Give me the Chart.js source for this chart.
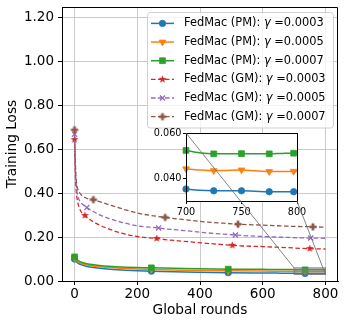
<!DOCTYPE html>
<html><head><meta charset="utf-8">
<script src="https://cdn.jsdelivr.net/npm/chart.js@4.4.1/dist/chart.umd.min.js"></script>
<style>
html,body{margin:0;padding:0;background:#fff;}
#wrap{position:relative;width:347px;height:326px;overflow:hidden;}
canvas{position:absolute;left:0;top:0;}
</style></head><body>
<div id="wrap"><canvas id="main" width="347" height="326"></canvas><canvas id="inset" width="347" height="326"></canvas></div>
<script>
// ---------------- data ----------------
const xTicks = [0, 200, 400, 600, 800];
const yTicks = [0, 0.2, 0.4, 0.6, 0.8, 1.0, 1.2];
const insetXTicks = [700, 750, 800];
const insetYTicks = [0.04, 0.06];

const seriesNames = ['FedMac (PM)', 'FedMac (PM)', 'FedMac (PM)', 'FedMac (GM)', 'FedMac (GM)', 'FedMac (GM)'];
const gammaLabels = ['0.0003', '0.0005', '0.0007', '0.0003', '0.0005', '0.0007'];

const pmRounds = [0, 5, 10, 20, 40, 80, 150, 245, 350, 490, 600, 660, 700, 712, 725, 735, 750, 762, 775, 787, 797, 800];
const pmG0003 = [0.100, 0.090, 0.083, 0.075, 0.066, 0.058, 0.050, 0.045, 0.041, 0.038, 0.0365, 0.0358, 0.0353, 0.0347, 0.0345, 0.0345, 0.0345, 0.0343, 0.0341, 0.0341, 0.0341, 0.0341];
const pmG0005 = [0.105, 0.095, 0.089, 0.081, 0.073, 0.065, 0.058, 0.053, 0.049, 0.0465, 0.0452, 0.0447, 0.0442, 0.0437, 0.0434, 0.0435, 0.0437, 0.0433, 0.0430, 0.0430, 0.0431, 0.0431];
const pmG0007 = [0.110, 0.100, 0.094, 0.087, 0.079, 0.071, 0.064, 0.060, 0.057, 0.054, 0.0532, 0.0527, 0.0523, 0.0513, 0.0508, 0.0508, 0.0509, 0.0508, 0.0508, 0.0510, 0.0511, 0.0511];

const gmRounds = [0, 3, 6, 10, 15, 20, 25, 33, 39, 50, 60, 80, 110, 150, 200, 262, 268, 289, 350, 420, 503, 513, 521, 600, 680, 750, 753, 760, 800];
const gmG0003 = [0.645, 0.47, 0.40, 0.36, 0.335, 0.318, 0.308, 0.299, 0.292, 0.280, 0.270, 0.255, 0.237, 0.218, 0.203, 0.194, 0.193, 0.189, 0.181, 0.172, 0.163, 0.162, 0.161, 0.157, 0.152, 0.148, 0.148, 0.147, 0.146];
const gmG0005 = [0.670, 0.50, 0.43, 0.39, 0.37, 0.358, 0.350, 0.342, 0.335, 0.325, 0.317, 0.302, 0.285, 0.268, 0.252, 0.243, 0.242, 0.238, 0.230, 0.220, 0.211, 0.210, 0.209, 0.203, 0.199, 0.196, 0.196, 0.196, 0.195];
const gmG0007 = [0.690, 0.52, 0.45, 0.42, 0.405, 0.395, 0.388, 0.381, 0.377, 0.374, 0.371, 0.362, 0.348, 0.330, 0.310, 0.295, 0.294, 0.290, 0.280, 0.269, 0.261, 0.260, 0.259, 0.255, 0.250, 0.248, 0.248, 0.247, 0.246];

const pmMarks = [0, 245, 490, 735];
const insetMarks = [700, 725, 750, 775, 797];
const gm0003Marks = [0, 33, 262, 503, 750];
const gm0005Marks = [0, 39, 268, 513, 753];
const gm0007Marks = [0, 60, 289, 521, 760];

const zoomX = [700, 800];
const zoomY = [0.03, 0.06];

// ---------------- styles ----------------
const colors = ['#1f77b4', '#ff7f0e', '#2ca02c', '#d62728', '#9467bd', '#8c564b'];
const FONT = '"DejaVu Sans", "Liberation Sans", sans-serif';

function starCanvas(color, R) {
  const s = Math.ceil(2 * R + 2);
  const c = document.createElement('canvas'); c.width = s; c.height = s;
  const g = c.getContext('2d');
  g.translate(s / 2, s / 2);
  g.beginPath();
  for (let i = 0; i < 10; i++) {
    const r = i % 2 === 0 ? R : R * 0.42;
    const a = -Math.PI / 2 + i * Math.PI / 5;
    const px = r * Math.cos(a), py = r * Math.sin(a);
    if (i === 0) g.moveTo(px, py); else g.lineTo(px, py);
  }
  g.closePath(); g.fillStyle = color; g.fill();
  return c;
}
function plusCanvas(color, R) {
  const s = Math.ceil(2 * R + 2);
  const c = document.createElement('canvas'); c.width = s; c.height = s;
  const g = c.getContext('2d');
  g.translate(s / 2, s / 2);
  const w = R * 0.38;
  g.beginPath();
  g.moveTo(-w, -R); g.lineTo(w, -R); g.lineTo(w, -w); g.lineTo(R, -w); g.lineTo(R, w); g.lineTo(w, w);
  g.lineTo(w, R); g.lineTo(-w, R); g.lineTo(-w, w); g.lineTo(-R, w); g.lineTo(-R, -w); g.lineTo(-w, -w);
  g.closePath(); g.fillStyle = color; g.fill();
  return c;
}
const starImg = starCanvas(colors[3], 4.1);
const plusImg = plusCanvas(colors[5], 3.6);

const markerDefs = [
  {style: 'circle', r: 3.2, rot: 0},
  {style: 'triangle', r: 3.9, rot: 180},
  {style: 'rect', r: 4.1, rot: 0},
  {style: starImg, r: 3, rot: 0},
  {style: 'crossRot', r: 3.6, rot: 0},
  {style: plusImg, r: 3, rot: 0}
];

function radiusFor(marks, r) {
  return (ctx) => (ctx.raw && marks.includes(ctx.raw.x)) ? r : 0;
}
function pts(rounds, vals, minRound) {
  const out = [];
  rounds.forEach((x, i) => { if (minRound === undefined || x >= minRound) out.push({x: x, y: vals[i]}); });
  return out;
}

function makeDataset(i, data, marks, dashed) {
  const m = markerDefs[i];
  return {
    label: seriesNames[i] + ': \u03b3 =' + gammaLabels[i],
    data: data,
    borderColor: colors[i],
    backgroundColor: colors[i],
    borderWidth: dashed ? 1.3 : 1.5,
    borderDash: dashed ? [4.5, 2.5] : [],
    pointStyle: m.style,
    pointRotation: m.rot,
    pointRadius: radiusFor(marks, m.r),
    pointHoverRadius: radiusFor(marks, m.r),
    pointBorderWidth: i === 4 ? 1.3 : 0.8,
    pointBorderColor: colors[i],
    pointBackgroundColor: colors[i],
    cubicInterpolationMode: 'monotone',
    order: -i,
    clip: 2
  };
}

const mainDatasets = [
  makeDataset(0, pts(pmRounds, pmG0003), pmMarks, false),
  makeDataset(1, pts(pmRounds, pmG0005), pmMarks, false),
  makeDataset(2, pts(pmRounds, pmG0007), pmMarks, false),
  makeDataset(3, pts(gmRounds, gmG0003), gm0003Marks, true),
  makeDataset(4, pts(gmRounds, gmG0005), gm0005Marks, true),
  makeDataset(5, pts(gmRounds, gmG0007), gm0007Marks, true)
];

// legend marker painter
function paintMarker(g, i, x, y) {
  const m = markerDefs[i];
  const c = colors[i];
  g.save();
  g.fillStyle = c; g.strokeStyle = c; g.setLineDash([]);
  if (typeof m.style !== 'string') {
    g.drawImage(m.style, x - m.style.width / 2, y - m.style.height / 2);
  } else if (m.style === 'circle') {
    g.lineWidth = 0.8; g.beginPath(); g.arc(x, y, m.r, 0, Math.PI * 2); g.fill(); g.stroke();
  } else if (m.style === 'triangle') {
    const r = m.r; g.lineWidth = 0.8;
    g.beginPath(); g.moveTo(x, y + r); g.lineTo(x - r * Math.sin(Math.PI / 3), y - r / 2); g.lineTo(x + r * Math.sin(Math.PI / 3), y - r / 2); g.closePath(); g.fill(); g.stroke();
  } else if (m.style === 'rect') {
    const s = Math.SQRT1_2 * m.r; g.lineWidth = 0.8;
    g.beginPath(); g.rect(x - s, y - s, 2 * s, 2 * s); g.fill(); g.stroke();
  } else if (m.style === 'crossRot') {
    const s = Math.SQRT1_2 * m.r; g.lineWidth = 1.3;
    g.beginPath(); g.moveTo(x - s, y - s); g.lineTo(x + s, y + s); g.moveTo(x - s, y + s); g.lineTo(x + s, y - s); g.stroke();
  }
  g.restore();
}

function roundRect(g, x, y, w, h, r) {
  g.beginPath();
  g.moveTo(x + r, y); g.lineTo(x + w - r, y); g.arcTo(x + w, y, x + w, y + r, r);
  g.lineTo(x + w, y + h - r); g.arcTo(x + w, y + h, x + w - r, y + h, r);
  g.lineTo(x + r, y + h); g.arcTo(x, y + h, x, y + h - r, r);
  g.lineTo(x, y + r); g.arcTo(x, y, x + r, y, r); g.closePath();
}

const mainPlugin = {
  id: 'mainExtras',
  afterDatasetsDraw(chart) {
    const g = chart.ctx;
    const xs = chart.scales.x, ys = chart.scales.y;
    // zoom indicator rectangle
    const x0 = xs.getPixelForValue(zoomX[0]), x1 = xs.getPixelForValue(zoomX[1]);
    const y0 = ys.getPixelForValue(zoomY[1]), y1 = ys.getPixelForValue(zoomY[0]);
    g.save();
    g.fillStyle = 'rgba(128,128,128,0.45)';
    g.fillRect(x0, y0, x1 - x0, y1 - y0);
    g.strokeStyle = 'rgba(110,110,110,0.8)'; g.lineWidth = 1;
    g.strokeRect(x0, y0, x1 - x0, y1 - y0);
    g.restore();
  },
  afterDraw(chart) {
    const g = chart.ctx;
    const a = chart.chartArea;
    g.save();
    g.strokeStyle = '#000'; g.lineWidth = 1; g.setLineDash([]);
    g.beginPath();
    g.moveTo(a.left, a.top + 0.5); g.lineTo(a.right - 0.5, a.top + 0.5); g.lineTo(a.right - 0.5, a.bottom);
    g.stroke();
    // legend
    const lx = 147, ly = 12, lw = 186, lh = 115.5;
    roundRect(g, lx + 0.5, ly + 0.5, lw, lh, 3);
    g.fillStyle = 'rgba(255,255,255,0.8)'; g.fill();
    g.strokeStyle = 'rgba(204,204,204,0.9)'; g.lineWidth = 1; g.stroke();
    const fs = 11.4;
    for (let i = 0; i < 6; i++) {
      const yy = 23.4 + i * 18.65;
      const ds = chart.data.datasets[i];
      g.save();
      g.strokeStyle = colors[i]; g.lineWidth = ds.borderWidth;
      g.setLineDash(ds.borderDash);
      g.beginPath(); g.moveTo(151, yy); g.lineTo(174, yy); g.stroke();
      g.restore();
      paintMarker(g, i, 162.5, yy);
      g.fillStyle = '#000'; g.textBaseline = 'middle'; g.textAlign = 'left';
      let tx = 184;
      g.font = fs + 'px ' + FONT;
      const p1 = seriesNames[i] + ': ';
      g.fillText(p1, tx, yy); tx += g.measureText(p1).width;
      g.font = 'italic ' + fs + 'px ' + FONT;
      g.fillText('\u03b3', tx, yy); tx += g.measureText('\u03b3').width;
      g.font = fs + 'px ' + FONT;
      g.fillText(' =' + gammaLabels[i], tx, yy);
    }
    g.restore();
  }
};

const tickFont = {family: FONT, size: 13.5};

const mainChart = new Chart(document.getElementById('main'), {
  type: 'line',
  data: {datasets: mainDatasets},
  options: {
    responsive: false, animation: false, devicePixelRatio: 1,
    layout: {padding: {left: 0, top: 7, right: 9, bottom: 0}},
    plugins: {legend: {display: false}, tooltip: {enabled: false}},
    scales: {
      x: {
        type: 'linear', min: -40, max: 840,
        afterBuildTicks: (s) => { s.ticks = xTicks.map(v => ({value: v})); },
        afterFit: (s) => { s.height = 45; s.paddingLeft = 0; s.paddingRight = 0; },
        ticks: {font: tickFont, color: '#000', padding: 1, maxRotation: 0, autoSkip: false},
        grid: {color: '#c4c4c4', lineWidth: 0.9, tickLength: 4, tickColor: '#000', tickWidth: 1},
        border: {display: true, color: '#000', width: 1},
        title: {display: true, text: 'Global rounds', font: {family: FONT, size: 13.7}, color: '#000', padding: {top: 0, bottom: 7}}
      },
      y: {
        type: 'linear', min: 0, max: 1.25,
        afterBuildTicks: (s) => { s.ticks = yTicks.map(v => ({value: v})); },
        afterFit: (s) => { s.width = 62; s.paddingTop = 0; s.paddingBottom = 0; },
        ticks: {font: tickFont, color: '#000', padding: 4, callback: (v) => Number(v).toFixed(2), autoSkip: false},
        grid: {color: '#c4c4c4', lineWidth: 0.9, tickLength: 4, tickColor: '#000', tickWidth: 1},
        border: {display: true, color: '#000', width: 1},
        title: {display: true, text: 'Training Loss', font: {family: FONT, size: 13.7}, color: '#000', padding: {top: 4, bottom: 0}}
      }
    }
  },
  plugins: [mainPlugin]
});

// ---------------- inset ----------------
const insetDatasets = [
  makeDataset(0, pts(pmRounds, pmG0003, zoomX[0]), insetMarks, false),
  makeDataset(1, pts(pmRounds, pmG0005, zoomX[0]), insetMarks, false),
  makeDataset(2, pts(pmRounds, pmG0007, zoomX[0]), insetMarks, false)
];
insetDatasets.forEach(d => { d.clip = 4; });

const insetPlugin = {
  id: 'insetExtras',
  beforeDraw(chart) {
    const g = chart.ctx, a = chart.chartArea;
    g.save(); g.fillStyle = '#fff'; g.fillRect(a.left, a.top, a.right - a.left, a.bottom - a.top); g.restore();
  },
  afterDraw(chart) {
    const g = chart.ctx, a = chart.chartArea;
    g.save();
    g.strokeStyle = '#000'; g.lineWidth = 1;
    g.strokeRect(Math.round(a.left) + 0.5, Math.round(a.top) + 0.5, Math.round(a.right - a.left), Math.round(a.bottom - a.top));
    // connectors to zoom rectangle in main chart
    const xs = mainChart.scales.x, ys = mainChart.scales.y;
    const rx0 = xs.getPixelForValue(zoomX[0]), rx1 = xs.getPixelForValue(zoomX[1]);
    const ry0 = ys.getPixelForValue(zoomY[1]), ry1 = ys.getPixelForValue(zoomY[0]);
    g.strokeStyle = 'rgba(110,110,110,0.85)'; g.lineWidth = 1;
    g.beginPath();
    g.moveTo(a.left, a.top); g.lineTo(rx0, ry0);
    g.moveTo(a.right, a.bottom); g.lineTo(rx1, ry1);
    g.stroke();
    g.restore();
  }
};

const insetFont = {family: FONT, size: 9.7};
const insetChart = new Chart(document.getElementById('inset'), {
  type: 'line',
  data: {datasets: insetDatasets},
  options: {
    responsive: false, animation: false, devicePixelRatio: 1,
    layout: {padding: {left: 146, top: 133, right: 50, bottom: 105}},
    plugins: {legend: {display: false}, tooltip: {enabled: false}},
    scales: {
      x: {
        type: 'linear', min: zoomX[0], max: zoomX[1],
        afterBuildTicks: (s) => { s.ticks = insetXTicks.map(v => ({value: v})); },
        afterFit: (s) => { s.height = 20; s.paddingLeft = 0; s.paddingRight = 0; },
        ticks: {font: insetFont, color: '#000', padding: 2.5, maxRotation: 0, autoSkip: false},
        grid: {drawOnChartArea: false, tickLength: 3, tickColor: '#000', color: '#000'},
        border: {display: true, color: '#000', width: 1}
      },
      y: {
        type: 'linear', min: zoomY[0], max: zoomY[1],
        afterBuildTicks: (s) => { s.ticks = insetYTicks.map(v => ({value: v})); },
        afterFit: (s) => { s.width = 40; s.paddingTop = 0; s.paddingBottom = 0; },
        ticks: {font: insetFont, color: '#000', padding: 1.5, callback: (v) => Number(v).toFixed(3), autoSkip: false},
        grid: {drawOnChartArea: false, tickLength: 3, tickColor: '#000', color: '#000'},
        border: {display: true, color: '#000', width: 1}
      }
    }
  },
  plugins: [insetPlugin]
});
</script>
</body></html>
